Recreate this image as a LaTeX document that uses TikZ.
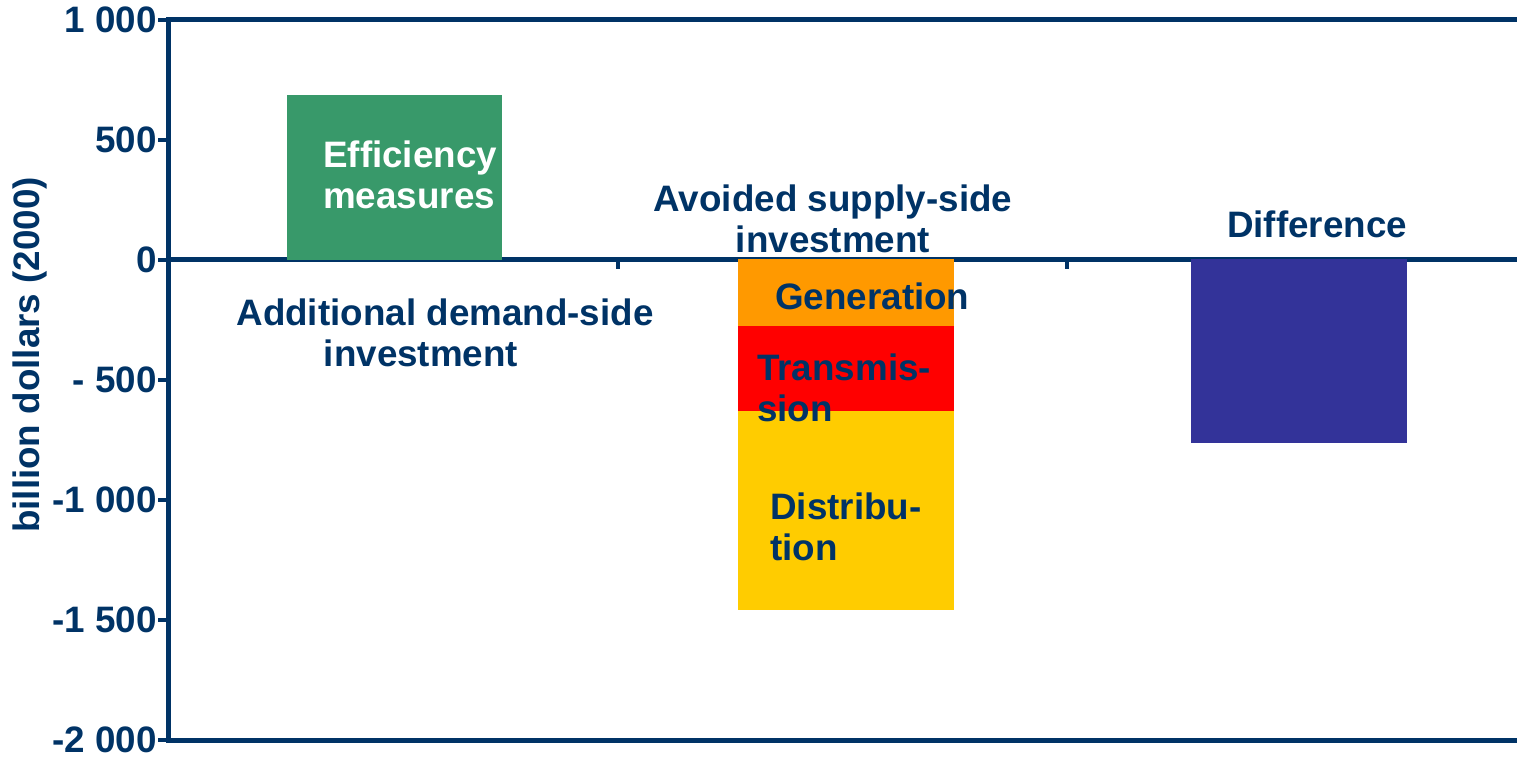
\documentclass[tikz,border=0pt]{standalone}
\usepackage{fontspec}
\setmainfont{Liberation Sans}
\definecolor{navy}{RGB}{0,51,102}
\definecolor{effgreen}{RGB}{56,153,106}
\definecolor{genorange}{RGB}{255,153,0}
\definecolor{transred}{RGB}{255,0,0}
\definecolor{distyellow}{RGB}{255,204,0}
\definecolor{diffblue}{RGB}{51,51,153}
\begin{document}
\begin{tikzpicture}[x=1pt,y=-1pt,
  axisline/.style={line width=5pt, draw=navy},
  tickline/.style={line width=4pt, draw=navy},
  lbl/.style={font=\fontsize{36.8}{41}\selectfont\bfseries, text=navy, inner sep=0pt},
  ticklbl/.style={lbl, anchor=east},
  bartext/.style={lbl, align=left, anchor=west}]
\useasboundingbox (0,0) rectangle (1517,759);
% frame lines
\draw[axisline] (168,20) -- (1517,20);
\draw[axisline] (168,740) -- (1517,740);
\draw[axisline] (168,260) -- (1517,260);
\draw[axisline] (168,17.5) -- (168,742.5);
% ticks on y axis
\foreach \yy in {20,140,260,380,500,620,740}
  \draw[tickline] (158,\yy) -- (168,\yy);
% ticks on zero line
\draw[tickline] (618,260) -- (618,269);
\draw[tickline] (1067,260) -- (1067,269);
% tick labels
\node[ticklbl] (t1) at (157,20) {1 000};
\node[ticklbl] (t2) at (157,140) {500};
\node[ticklbl] (t3) at (157,260) {0};
\node[ticklbl] (t4) at (157,380) {- 500};
\node[ticklbl] (t5) at (157,500) {-1 000};
\node[ticklbl] (t6) at (157,620) {-1 500};
\node[ticklbl] (t7) at (157,740) {-2 000};
% axis title
\node[lbl, rotate=90] (ytitle) at (30,355) {billion dollars (2000)};
% bars
\fill[effgreen] (287,95) rectangle (502,260);
\fill[genorange] (738,259) rectangle (954,326);
\fill[transred] (738,326) rectangle (954,411);
\fill[distyellow] (738,411) rectangle (954,610);
\fill[diffblue] (1191,259) rectangle (1407,443);
% bar labels
\node[bartext, text=white] (eff) at (323,175) {Efficiency\\measures};
\node[bartext] (gen) at (775,296) {Generation};
\node[bartext] (trans) at (757,388) {Transmis-\\sion};
\node[bartext] (dist) at (770,527) {Distribu-\\tion};
% category labels
\node[lbl, align=center] (demand) at (445,333) {Additional demand-side\\\hspace*{-48pt}investment};
\node[lbl, align=center] (supply) at (833,219) {Avoided supply-side\\investment};
\node[lbl] (diff) at (1317,224) {Difference};
\end{tikzpicture}
\end{document}
